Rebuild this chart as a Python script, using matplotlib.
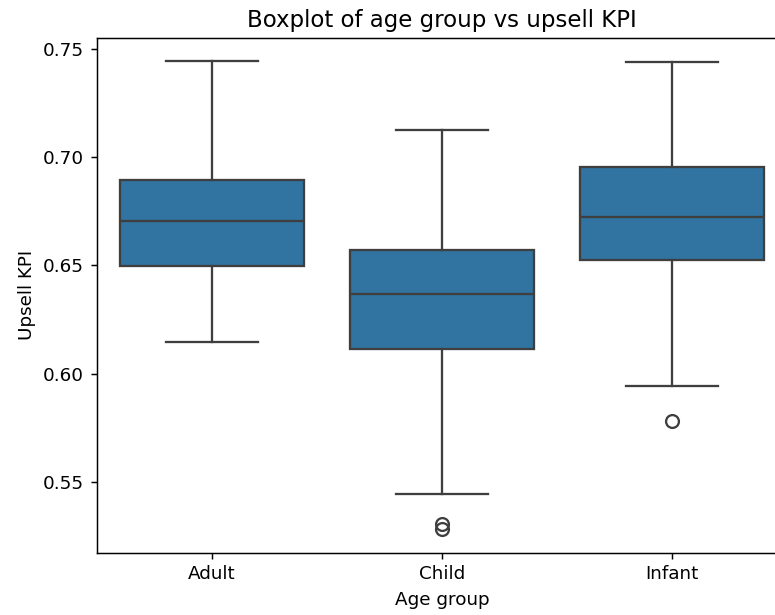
import matplotlib
matplotlib.use("Agg")
import matplotlib.pyplot as plt

# values
groups = ["Adult", "Child", "Infant"]
whisker_low = [0.6145, 0.5443, 0.5944]
q1 = [0.6498, 0.6112, 0.6523]
median = [0.6704, 0.6366, 0.6724]
q3 = [0.6896, 0.6569, 0.6955]
whisker_high = [0.7444, 0.7124, 0.7441]
outliers = [[], [0.5304, 0.5281], [0.5782]]

box_color = "#3274a1"
line_color = "#3f3f3f"

dpi = 132
fig = plt.figure(figsize=(775 / dpi, 615 / dpi), dpi=dpi)
# right spine sits just past the picture edge, like the reference crop
ax = fig.add_axes([97 / 775, (615 - 552.6) / 615, (787 - 97) / 775, (552.6 - 37.5) / 615])

stats = []
for i in range(len(groups)):
    stats.append({
        "label": groups[i],
        "whislo": whisker_low[i],
        "q1": q1[i],
        "med": median[i],
        "q3": q3[i],
        "whishi": whisker_high[i],
        "fliers": outliers[i],
    })

ax.bxp(stats, positions=range(len(groups)), widths=0.8, capwidths=0.4,
       patch_artist=True, showfliers=True,
       boxprops=dict(facecolor=box_color, edgecolor=line_color, linewidth=1.25),
       medianprops=dict(color=line_color, linewidth=1.25),
       whiskerprops=dict(color=line_color, linewidth=1.25),
       capprops=dict(color=line_color, linewidth=1.25),
       flierprops=dict(marker="o", markerfacecolor="none", markeredgecolor=line_color,
                       markersize=7, markeredgewidth=1.25))

ax.spines["right"].set_visible(False)
ax.set_xlim(-0.5, 2.5)
ax.set_xticks(range(len(groups)))
ax.set_xticklabels(groups)
ax.set_title("Boxplot of age group vs upsell KPI", fontsize=12.5)
ax.set_xlabel("Age group")
ax.set_ylabel("Upsell KPI")

fig.savefig("out.png", dpi=dpi, facecolor="white")
